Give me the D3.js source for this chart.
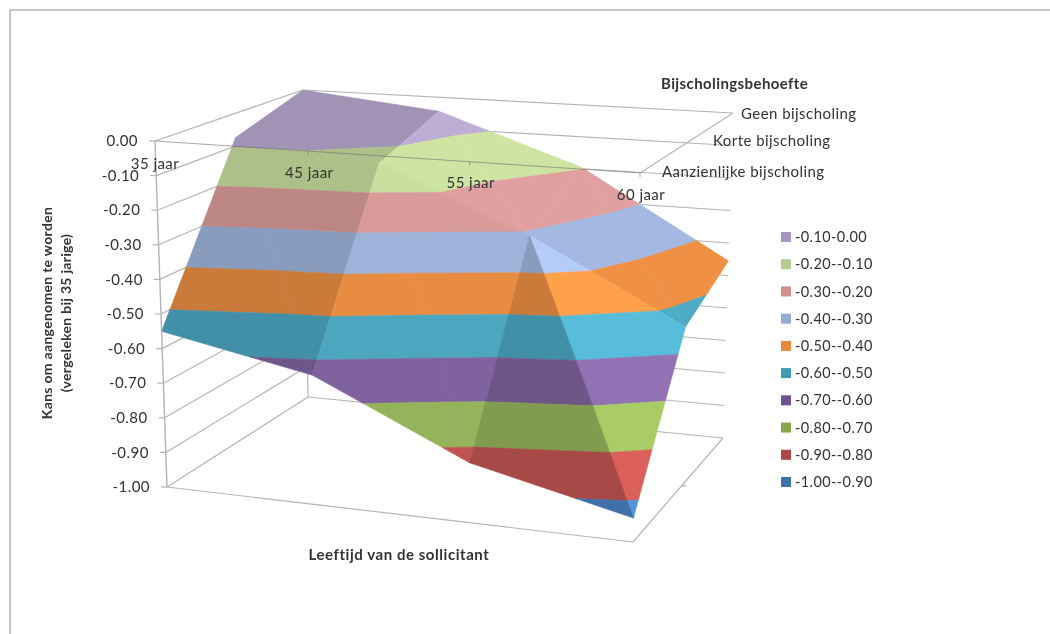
<!DOCTYPE html>
<html>
<head>
<meta charset="utf-8">
<script src="https://cdn.jsdelivr.net/npm/d3@7"></script>
<style>
  html, body { margin: 0; background: #fff; }
  svg { display: block; filter: blur(0.55px); }
  text { font-family: Lato, "Open Sans", sans-serif; fill: #333; }
</style>
</head>
<body>
<svg id="chart" width="1050" height="634"></svg>
<script>
// Chart values
const ages = ['35 jaar', '45 jaar', '55 jaar', '60 jaar'];
const needs = ['Aanzienlijke bijscholing', 'Korte bijscholing', 'Geen bijscholing'];
const aanzienlijkeValues = [-0.55, -0.634, -0.834, -0.935];
const korteValues = [-0.074, -0.124, -0.309, -0.539];
const geenValues = [0.00, -0.045, -0.195, -0.455];
const surfaceRows = [aanzienlijkeValues, korteValues, geenValues];

const zTicks = [0, -0.1, -0.2, -0.3, -0.4, -0.5, -0.6, -0.7, -0.8, -0.9, -1];
const zTickLabels = ['0.00', '-0.10', '-0.20', '-0.30', '-0.40', '-0.50', '-0.60', '-0.70', '-0.80', '-0.90', '-1.00'];
const bandLabels = ['-0.10-0.00', '-0.20--0.10', '-0.30--0.20', '-0.40--0.30', '-0.50--0.40',
  '-0.60--0.50', '-0.70--0.60', '-0.80--0.70', '-0.90--0.80', '-1.00--0.90'];
const bandTops = [0, -0.1, -0.2, -0.3, -0.4, -0.5, -0.6, -0.7, -0.8, -0.9];
const bandColors = ['#b8a9d0', '#c8dd9e', '#d99b9a', '#9fb3da', '#e88c42',
  '#4ca6c0', '#80639e', '#94b35a', '#c05450', '#4a81c1'];
const legendColors = ['#a697c0', '#b5cc8e', '#d08e8d', '#94abd4', '#e58a3a',
  '#3f9bb5', '#6e5494', '#86a84b', '#ae4644', '#3f70a8'];

// Brightness of each facet, [row][column][triangle]; row 0 is the front strip
const facetLight = [
  [[0.87, 0.87], [1.0, 1.0], [0.87, 1.14]],
  [[0.87, 0.87], [1.03, 1.03], [1.03, 1.03]]
];

const svg = d3.select('#chart');

// Corners of the chart box on screen, seen in perspective
const box = {
  frontLeftTop: [155, 141], backLeftTop: [303, 90], backRightTop: [733, 113], frontRightTop: [640, 173],
  frontLeftBottom: [167, 487], backLeftBottom: [308, 397], backRightBottom: [723, 438], frontRightBottom: [633, 542]
};

const ageScale = d3.scalePoint(ages, [0, 1]);
const needScale = d3.scalePoint(needs, [0, 1]);
const zScale = d3.scaleLinear([0, -1], [0, 1]);

// Foreshortening along the two floor directions
const warp = (t, k) => t / (t + (1 - t) * k);
const mix = (a, b, f) => [a[0] + (b[0] - a[0]) * f, a[1] + (b[1] - a[1]) * f];

function project(t, d, z) {
  const u = warp(t, 1.082);
  const v = warp(d, 0.85);
  const w = zScale(z);
  const top = mix(mix(box.frontLeftTop, box.frontRightTop, u), mix(box.backLeftTop, box.backRightTop, u), v);
  const bottom = mix(mix(box.frontLeftBottom, box.frontRightBottom, u), mix(box.backLeftBottom, box.backRightBottom, u), v);
  return mix(top, bottom, w);
}

const line = d3.line();
const gridColor = '#b4b4b4';

function drawLine(a, b, color, width) {
  svg.append('path')
    .attr('d', line([a, b]))
    .attr('fill', 'none')
    .attr('stroke', color || gridColor)
    .attr('stroke-width', width || 1.2);
}

function drawText(x, y, str, size, spacing, bold) {
  return svg.append('text')
    .attr('x', x)
    .attr('y', y)
    .attr('dy', '0.35em')
    .attr('font-size', size)
    .attr('letter-spacing', spacing)
    .attr('font-weight', bold ? 700 : 400)
    .text(str);
}

// Outer frame of the screenshot
drawLine([10, 10], [1050, 10], '#b0b0b0', 1.4);
drawLine([10, 10], [10, 634], '#b0b0b0', 1.4);

// Walls and floor
zTicks.forEach(z => {
  drawLine(project(0, 0, z), project(0, 1, z));
  drawLine(project(0, 1, z), project(1, 1, z));
});
drawLine(project(0, 1, 0), project(0, 1, -1));
drawLine(project(0, 0, -1), project(1, 0, -1));
drawLine(project(1, 0, -1), project(1, 1, -1));

// Cut a polygon to the part between two z levels
function clipBelow(poly, level, keepAbove) {
  const out = [];
  poly.forEach((p, i) => {
    const q = poly[(i + 1) % poly.length];
    const pIn = keepAbove ? p[2] >= level : p[2] <= level;
    const qIn = keepAbove ? q[2] >= level : q[2] <= level;
    if (pIn) out.push(p);
    if (pIn !== qIn) {
      const f = (level - p[2]) / (q[2] - p[2]);
      out.push([p[0] + (q[0] - p[0]) * f, p[1] + (q[1] - p[1]) * f, level]);
    }
  });
  return out;
}

function shade(color, light) {
  const c = d3.rgb(color);
  return d3.rgb(Math.min(255, c.r * light), Math.min(255, c.g * light), Math.min(255, c.b * light)).formatHex();
}

function drawFacet(tri, light) {
  bandTops.forEach((top, i) => {
    let poly = clipBelow(tri, top, false);
    if (poly.length) poly = clipBelow(poly, top - 0.1, true);
    if (poly.length < 3) return;
    const fill = shade(bandColors[i], light);
    svg.append('path')
      .attr('d', line(poly.map(p => project(p[0], p[1], p[2]))) + 'Z')
      .attr('fill', fill)
      .attr('stroke', fill)
      .attr('stroke-width', 0.6);
  });
}

// Surface, back strip first
const vertex = (c, r) => [ageScale(ages[c]), needScale(needs[r]), surfaceRows[r][c]];
for (let r = needs.length - 2; r >= 0; r--) {
  for (let c = 0; c < ages.length - 1; c++) {
    // Each cell splits along the diagonal from its back-left to its front-right vertex
    drawFacet([vertex(c, r + 1), vertex(c + 1, r + 1), vertex(c + 1, r)], facetLight[r][c][1]);
    drawFacet([vertex(c, r + 1), vertex(c + 1, r), vertex(c, r)], facetLight[r][c][0]);
  }
}

// Axis lines that stay on top of the surface
drawLine(project(0, 0, 0), project(1, 0, 0), 'rgba(110,110,110,0.6)', 1);
drawLine(project(0, 0, 0), project(0, 0, -1), gridColor, 1.4);
drawLine(project(1, 0, 0), project(1, 1, 0));

// Value axis
zTicks.forEach((z, i) => {
  const p = project(0, 0, z);
  drawLine([p[0] - 6, p[1]], p);
  drawText(p[0] - 17, p[1], zTickLabels[i], 15, 0.45).attr('text-anchor', 'end');
});

// Age axis
const ageLabelOffset = [[0, 23], [1, 22], [1, 21], [1, 22]];
ages.forEach((age, i) => {
  const p = project(ageScale(age), 0, 0);
  if (i > 0) drawLine(p, [p[0], p[1] + 4], 'rgba(110,110,110,0.6)', 1);
  drawText(p[0] + ageLabelOffset[i][0], p[1] + ageLabelOffset[i][1], age, 15, 0.45).attr('text-anchor', 'middle');
});

// Depth axis labels and the tick on the floor
const floorMid = project(1, needScale(needs[1]), -1);
drawLine(floorMid, [floorMid[0] + 5, floorMid[1]]);

const needLabelX = [662, 713, 741];
const needLabelY = [172, 141, 114];
needs.forEach((need, i) => {
  drawText(needLabelX[i], needLabelY[i], need, 15, 0.45);
});

// Titles
drawText(661, 84, 'Bijscholingsbehoefte', 15, 0.4, true);
drawText(399, 555, 'Leeftijd van de sollicitant', 15, 0.55, true).attr('text-anchor', 'middle');

const yTitle = svg.append('g').attr('transform', 'translate(47,313) rotate(-90)');
yTitle.append('text')
  .attr('text-anchor', 'middle').attr('dy', '0.35em')
  .attr('font-size', 14).attr('letter-spacing', 0.3).attr('font-weight', 700)
  .text('Kans om aangenomen te worden');
yTitle.append('text')
  .attr('y', 19)
  .attr('text-anchor', 'middle').attr('dy', '0.35em')
  .attr('font-size', 14).attr('letter-spacing', 0.3).attr('font-weight', 700)
  .text('(vergeleken bij 35 jarige)');

// Legend
const legendY = d3.scalePoint(bandLabels, [237, 482]);
bandLabels.forEach((label, i) => {
  svg.append('rect')
    .attr('x', 781)
    .attr('y', legendY(label) - 5)
    .attr('width', 10)
    .attr('height', 10)
    .attr('fill', legendColors[i]);
  drawText(795, legendY(label), label, 14.5, 0.4);
});
</script>
</body>
</html>
